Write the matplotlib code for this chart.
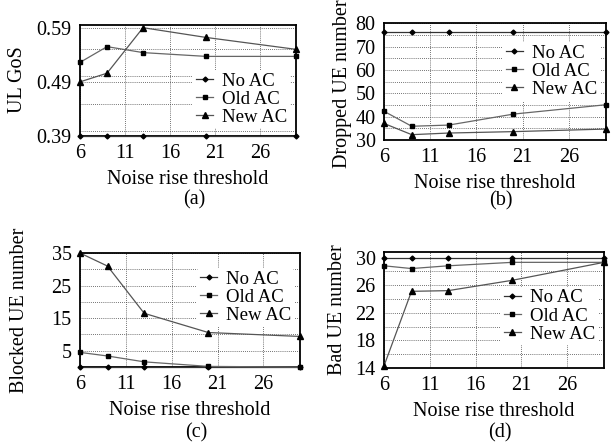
import matplotlib
matplotlib.use('Agg')
import matplotlib.pyplot as plt
from matplotlib.ticker import MultipleLocator, FormatStrFormatter

plt.rcParams['font.family'] = ['Liberation Serif', 'DejaVu Serif']
plt.rcParams['font.size'] = 14.5

# noise rise threshold values
x = [6, 9, 13, 20, 30]

# (a) UL GoS
gos_no = [0.39, 0.39, 0.39, 0.39, 0.39]
gos_old = [0.526, 0.555, 0.544, 0.537, 0.537]
gos_new = [0.49, 0.506, 0.59, 0.572, 0.55]

# (b) Dropped UE number
drop_no = [76.4, 76.4, 76.4, 76.4, 76.4]
drop_old = [42.3, 35.9, 36.4, 41.1, 45.1]
drop_new = [37.1, 32.3, 33.0, 33.6, 34.7]

# (c) Blocked UE number
block_no = [0, 0, 0, 0, 0]
block_old = [4.5, 3.4, 1.6, 0.2, 0.0]
block_new = [35.0, 31.0, 16.5, 10.6, 9.4]

# (d) Bad UE number
bad_no = [30, 30, 30, 30, 30]
bad_old = [28.8, 28.4, 28.8, 29.3, 29.3]
bad_new = [14.3, 25.1, 25.2, 26.7, 29.3]

labels = ['No AC', 'Old AC', 'New AC']
markers = ['D', 's', '^']
msizes = [2.5, 3.5, 4]
line_cols = ['#333333', '#666666', '#555555']

yticks_a = [0.39, 0.49, 0.59]
yticks_b = [30, 40, 50, 60, 70, 80]
yticks_c = [5, 15, 25, 35]
yticks_d = [14, 18, 22, 26, 30]

panels = [
    {'pos': [0.131, 0.695, 0.3535, 0.249], 'data': [gos_no, gos_old, gos_new],
     'ylabel': 'UL GoS', 'ylim': (0.39, 0.595), 'ticks': yticks_a, 'minor': 0.05,
     'leg_y': 0.333, 'cap': '(a)', 'cap_y': 200, 'ylab_x': 18, 'ylab_y': 80, 'fmt': '%.2f'},
    {'pos': [0.6285, 0.686, 0.363, 0.262], 'data': [drop_no, drop_old, drop_new],
     'ylabel': 'Dropped UE number', 'ylim': (30, 80), 'ticks': yticks_b, 'minor': 5,
     'leg_y': 0.59, 'cap': '(b)', 'cap_y': 201, 'ylab_x': 343, 'ylab_y': 84, 'fmt': '%d'},
    {'pos': [0.131, 0.177, 0.36, 0.2556], 'data': [block_no, block_old, block_new],
     'ylabel': 'Blocked UE number', 'ylim': (0, 35), 'ticks': yticks_c, 'minor': 5,
     'leg_y': 0.614, 'cap': '(c)', 'cap_y': 433, 'ylab_x': 20, 'ylab_y': 310, 'fmt': '%d'},
    {'pos': [0.6285, 0.175, 0.36, 0.26], 'data': [bad_no, bad_old, bad_new],
     'ylabel': 'Bad UE number', 'ylim': (14, 30.8), 'ticks': yticks_d, 'minor': 2,
     'leg_y': 0.448, 'cap': '(d)', 'cap_y': 433, 'ylab_x': 338, 'ylab_y': 310, 'fmt': '%d'},
]

W, H = 611, 446
fig = plt.figure(figsize=(W / 100, H / 100), dpi=100)

for p in panels:
    ax = fig.add_axes(p['pos'])
    for series, lab, m, ms, lc in zip(p['data'], labels, markers, msizes, line_cols):
        ax.plot(x, series, color=lc, lw=0.9, marker=m, markersize=ms,
                markerfacecolor='black', markeredgecolor='black',
                label=lab, clip_on=False, zorder=3)
    ax.set_xlim(6, 30)
    ax.set_ylim(*p['ylim'])
    ax.set_xticks([6, 11, 16, 21, 26])
    ax.set_yticks(p['ticks'])
    ax.yaxis.set_major_formatter(FormatStrFormatter(p['fmt']))
    ax.yaxis.set_minor_locator(MultipleLocator(p['minor']))
    ax.grid(True, which='both', color='#444444', linestyle=(0, (1, 1.5)), lw=0.6)
    ax.tick_params(which='both', length=0, pad=6)
    for s in ax.spines.values():
        s.set_linewidth(1.3)
    ax.set_xlabel('Noise rise threshold', labelpad=5)
    leg = ax.legend(loc='center right', bbox_to_anchor=(1.0, p['leg_y']),
                    frameon=True, edgecolor='none', facecolor='white', framealpha=1,
                    handlelength=0.9, handletextpad=0.5, labelspacing=0.05,
                    borderpad=0.15, borderaxespad=0.3, fontsize=13.5)
    leg.set_zorder(2.5)
    cx = p['pos'][0] + p['pos'][2] / 2 + 0.01
    fig.text(cx, 1 - p['cap_y'] / H, p['cap'], ha='center', va='center')
    fig.text(p['ylab_x'] / W, 1 - p['ylab_y'] / H, p['ylabel'],
             rotation=90, ha='center', va='center')

fig.savefig('out.png', dpi=100)
